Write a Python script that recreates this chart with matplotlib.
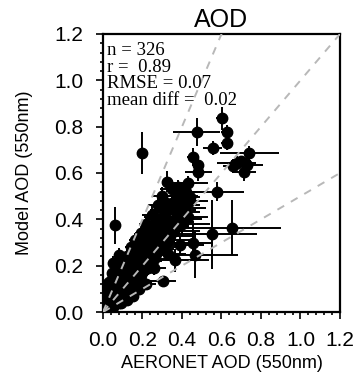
import matplotlib
matplotlib.use("Agg")
import matplotlib.pyplot as plt
import numpy as np
from matplotlib.ticker import MultipleLocator

# AERONET (x) vs model (y) AOD at 550nm, with error bars
aeronet = [0.601, 0.474, 0.626, 0.626, 0.555, 0.196, 0.741, 0.454, 0.677, 0.728,
           0.483, 0.483, 0.714, 0.660, 0.700, 0.322, 0.432, 0.381, 0.576, 0.319,
           0.061, 0.652, 0.550, 0.457, 0.466, 0.365, 0.302, 0.052, 0.083, 0.044,
           0.407, 0.440,
           0.01, 0.02, 0.03, 0.02, 0.04, 0.05, 0.06, 0.03, 0.07, 0.08,
           0.09, 0.05, 0.10, 0.11, 0.12, 0.07, 0.13, 0.14, 0.09, 0.15,
           0.16, 0.12, 0.17, 0.18, 0.14, 0.19, 0.20, 0.21, 0.16, 0.22,
           0.23, 0.19, 0.24, 0.25, 0.26, 0.22, 0.27, 0.28, 0.29, 0.25,
           0.30, 0.31, 0.32, 0.28, 0.33, 0.34, 0.35, 0.30, 0.36, 0.37,
           0.38, 0.40, 0.41, 0.42, 0.39, 0.43, 0.44, 0.35, 0.26, 0.20,
           0.33, 0.18, 0.22, 0.15, 0.12, 0.01, 0.02, 0.04, 0.06, 0.08,
           0.10, 0.03, 0.05, 0.11, 0.13, 0.17, 0.21, 0.24, 0.27, 0.31,
           0.34, 0.37, 0.29, 0.23, 0.36, 0.39, 0.09, 0.07, 0.14, 0.18,
           0.02, 0.04, 0.06, 0.08, 0.10, 0.12, 0.15, 0.19, 0.23, 0.26,
           0.29, 0.32, 0.01, 0.03, 0.05, 0.07, 0.11, 0.16, 0.20, 0.25]
model = [0.836, 0.776, 0.778, 0.731, 0.706, 0.685, 0.685, 0.670, 0.642, 0.634,
         0.634, 0.606, 0.606, 0.630, 0.650, 0.562, 0.555, 0.541, 0.519, 0.469,
         0.375, 0.364, 0.335, 0.299, 0.246, 0.224, 0.134, 0.210, 0.246, 0.167,
         0.483, 0.498,
         0.02, 0.05, 0.03, 0.09, 0.07, 0.04, 0.10, 0.13, 0.06, 0.12,
         0.08, 0.15, 0.14, 0.10, 0.17, 0.19, 0.13, 0.20, 0.22, 0.16,
         0.23, 0.24, 0.19, 0.27, 0.28, 0.23, 0.30, 0.18, 0.31, 0.26,
         0.33, 0.34, 0.22, 0.29, 0.36, 0.38, 0.25, 0.32, 0.40, 0.42,
         0.28, 0.36, 0.44, 0.46, 0.31, 0.39, 0.47, 0.50, 0.35, 0.43,
         0.50, 0.38, 0.45, 0.52, 0.29, 0.41, 0.48, 0.53, 0.19, 0.13,
         0.25, 0.10, 0.12, 0.07, 0.05, 0.08, 0.12, 0.11, 0.14, 0.16,
         0.19, 0.01, 0.02, 0.06, 0.09, 0.14, 0.21, 0.26, 0.35, 0.41,
         0.33, 0.40, 0.37, 0.28, 0.44, 0.46, 0.04, 0.15, 0.24, 0.21,
         0.03, 0.02, 0.06, 0.04, 0.08, 0.10, 0.12, 0.16, 0.19, 0.23,
         0.27, 0.30, 0.06, 0.11, 0.09, 0.13, 0.18, 0.21, 0.26, 0.33]
aeronet_err = [0.03, 0.12, 0.03, 0.03, 0.05, 0.02, 0.15, 0.03, 0.10, 0.08,
               0.03, 0.07, 0.06, 0.05, 0.05, 0.02, 0.10, 0.04, 0.14, 0.03,
               0.01, 0.25, 0.23, 0.10, 0.22, 0.17, 0.07, 0.02, 0.02, 0.02,
               0.06, 0.05,
               0.01, 0.01, 0.01, 0.01, 0.01, 0.02, 0.02, 0.01, 0.02, 0.02,
               0.02, 0.02, 0.03, 0.02, 0.03, 0.02, 0.03, 0.03, 0.02, 0.03,
               0.04, 0.03, 0.04, 0.04, 0.03, 0.05, 0.04, 0.05, 0.03, 0.06,
               0.05, 0.03, 0.06, 0.07, 0.06, 0.04, 0.08, 0.08, 0.07, 0.05,
               0.09, 0.10, 0.08, 0.05, 0.11, 0.12, 0.09, 0.05, 0.13, 0.12,
               0.10, 0.14, 0.11, 0.08, 0.12, 0.10, 0.09, 0.06, 0.06, 0.05,
               0.09, 0.04, 0.05, 0.03, 0.03, 0.01, 0.01, 0.01, 0.02, 0.02,
               0.02, 0.01, 0.01, 0.02, 0.03, 0.04, 0.05, 0.06, 0.08, 0.10,
               0.12, 0.13, 0.09, 0.06, 0.11, 0.10, 0.02, 0.02, 0.03, 0.04,
               0.01, 0.01, 0.02, 0.02, 0.02, 0.03, 0.03, 0.04, 0.05, 0.06,
               0.07, 0.08, 0.01, 0.01, 0.02, 0.02, 0.03, 0.04, 0.05, 0.06]
model_err = [0.05, 0.06, 0.03, 0.03, 0.03, 0.09, 0.03, 0.04, 0.03, 0.05,
             0.03, 0.04, 0.04, 0.03, 0.02, 0.045, 0.03, 0.03, 0.04, 0.03,
             0.08, 0.12, 0.15, 0.08, 0.10, 0.05, 0.02, 0.03, 0.03, 0.03,
             0.03, 0.03,
             0.01, 0.02, 0.01, 0.02, 0.02, 0.01, 0.02, 0.03, 0.02, 0.02,
             0.02, 0.03, 0.02, 0.02, 0.03, 0.03, 0.02, 0.03, 0.03, 0.03,
             0.03, 0.03, 0.03, 0.03, 0.03, 0.03, 0.04, 0.03, 0.03, 0.03,
             0.04, 0.03, 0.03, 0.04, 0.04, 0.03, 0.03, 0.04, 0.04, 0.04,
             0.04, 0.04, 0.04, 0.04, 0.04, 0.05, 0.05, 0.04, 0.05, 0.05,
             0.05, 0.05, 0.05, 0.04, 0.04, 0.05, 0.05, 0.04, 0.03, 0.03,
             0.03, 0.02, 0.02, 0.02, 0.02, 0.01, 0.02, 0.02, 0.02, 0.02,
             0.03, 0.01, 0.01, 0.02, 0.02, 0.03, 0.03, 0.03, 0.04, 0.04,
             0.04, 0.05, 0.04, 0.03, 0.05, 0.05, 0.01, 0.02, 0.03, 0.03,
             0.01, 0.01, 0.02, 0.02, 0.02, 0.02, 0.03, 0.03, 0.03, 0.03,
             0.04, 0.04, 0.02, 0.02, 0.02, 0.02, 0.03, 0.03, 0.03, 0.04]

stats = ["n = 326", "r =  0.89", "RMSE = 0.07", "mean diff =  0.02"]
ref_slopes = [2.0, 1.0, 0.5]

fig = plt.figure(figsize=(3.58, 3.85), dpi=100)
ax = fig.add_axes([0.2877, 0.1896, 0.662, 0.7221])

ax.errorbar(aeronet, model, xerr=aeronet_err, yerr=model_err, fmt="o",
            color="black", ms=7.5, elinewidth=1.4, capsize=0, zorder=2)

xs = np.array([0.0, 1.2])
for s in ref_slopes:
    ax.plot(xs, s * xs, color="#b8b8b8", lw=1.4, ls=(0, (4, 4)), zorder=3)

ax.set_xlim(0, 1.2)
ax.set_ylim(0, 1.2)
ax.xaxis.set_major_locator(MultipleLocator(0.2))
ax.yaxis.set_major_locator(MultipleLocator(0.2))
ax.xaxis.set_minor_locator(MultipleLocator(0.04))
ax.yaxis.set_minor_locator(MultipleLocator(0.04))
ax.xaxis.set_major_formatter(matplotlib.ticker.FormatStrFormatter("%.1f"))
ax.yaxis.set_major_formatter(matplotlib.ticker.FormatStrFormatter("%.1f"))
ax.tick_params(which="both", direction="out", top=False, right=False,
               width=1.2, labelsize=15, labelfontfamily="Liberation Sans")
ax.tick_params(which="major", length=5, pad=9)
ax.tick_params(which="minor", length=2.5)
for sp in ax.spines.values():
    sp.set_linewidth(1.6)

ax.set_title("AOD", fontsize=18, family="Liberation Sans", pad=5)
ax.set_xlabel("AERONET AOD (550nm)", fontsize=13, family="Liberation Sans", labelpad=3)
ax.set_ylabel("Model AOD (550nm)", fontsize=13, family="Liberation Sans", labelpad=15)

base = [55, 72, 88.5, 105]
for line, b in zip(stats, base):
    ax.text(0.017, (312 - b) / 278, line, transform=ax.transAxes,
            family="Liberation Serif", fontsize=13.5, va="baseline", ha="left",
            zorder=5)

fig.savefig("out.png", dpi=100)
